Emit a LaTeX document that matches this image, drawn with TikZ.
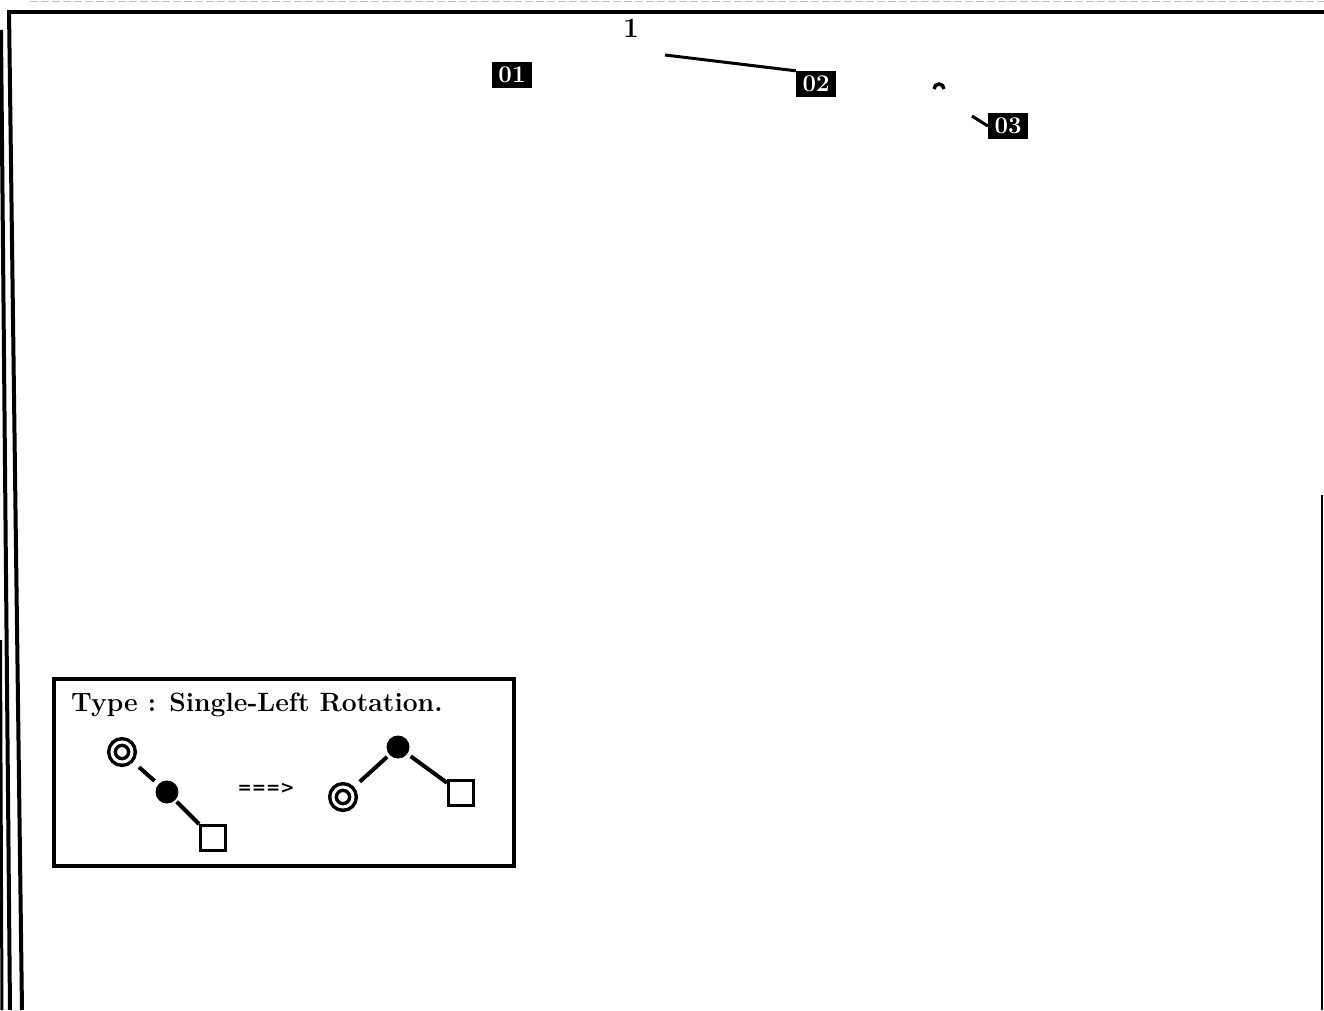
\documentclass[tikz,border=0pt]{standalone}
\usepackage{fontspec}
\newfontfamily\arrfont{DejaVu Sans}
\begin{document}
\begin{tikzpicture}[x=1pt,y=-1pt,
  frame/.style={line width=4.5pt,black},
  lbl/.style={fill=black,text=white,font=\bfseries\fontsize{24}{24}\selectfont,minimum width=40pt,minimum height=26pt,inner sep=0pt},
  dcirc/.style={circle,draw,double,line width=3.5pt,double distance=3pt,minimum size=20pt,inner sep=0pt},
  fcirc/.style={circle,fill=black,minimum size=23pt,inner sep=0pt},
  sq/.style={draw,line width=3pt,minimum size=25pt,inner sep=0pt},
  edge/.style={line width=4pt},
  link/.style={line width=3pt}]
\useasboundingbox (0,0) rectangle (1324,1010);
% frame lines
\draw[gray!50,line width=1.2pt,dash pattern=on 8pt off 3pt] (30,1.5) -- (1324,1.5);
\draw[frame] (7,12) -- (1324,12);
\draw[frame,line width=4pt] (9,10) -- (22,1010);
\draw[frame,line width=4pt] (1,30) -- (10,1010);
\draw[frame,line width=3pt] (0.5,640) -- (2,1010);
\draw[line width=2pt] (1322,495) -- (1322,1010);
% tree
\node[font=\bfseries\fontsize{28}{28}\selectfont] (one) at (631,28) {1};
\node[lbl] (n01) at (512,75) {01};
\node[lbl] (n02) at (816,84) {02};
\node[lbl] (n03) at (1008,126) {03};
\coordinate (e02) at (665,55);
\coordinate (e03) at (972,116);
\draw[link] (e02) -- (n02.north west);
\draw[link] (e03) -- (n03.west);
\draw[line width=3.5pt] (934,89) arc[start angle=180,end angle=360,radius=5];
% legend
\node[draw,line width=4pt,minimum width=460pt,minimum height=187pt,inner sep=0pt] (legend) at (284,772.5) {};
\node[anchor=west,font=\bfseries\fontsize{26.5}{26.5}\selectfont,inner sep=0pt] (title) at (71,705) {Type : Single-Left Rotation.};
\node[dcirc] (a1) at (122,752) {};
\node[fcirc] (b1) at (167,792) {};
\node[sq] (c1) at (213,838) {};
\draw[edge,shorten <=11pt,shorten >=5pt] (a1) -- (b1);
\draw[edge,shorten <=2pt] (b1) -- (c1);
\node[font=\arrfont\bfseries\fontsize{17}{17}\selectfont] (arr) at (266,788) {===>};
\node[dcirc] (a2) at (343,797) {};
\node[fcirc] (b2) at (398,747) {};
\node[sq] (c2) at (461,793) {};
\draw[edge,shorten <=11pt,shorten >=3pt] (a2) -- (b2);
\draw[edge,shorten <=4pt] (b2) -- (c2);
\end{tikzpicture}
\end{document}
